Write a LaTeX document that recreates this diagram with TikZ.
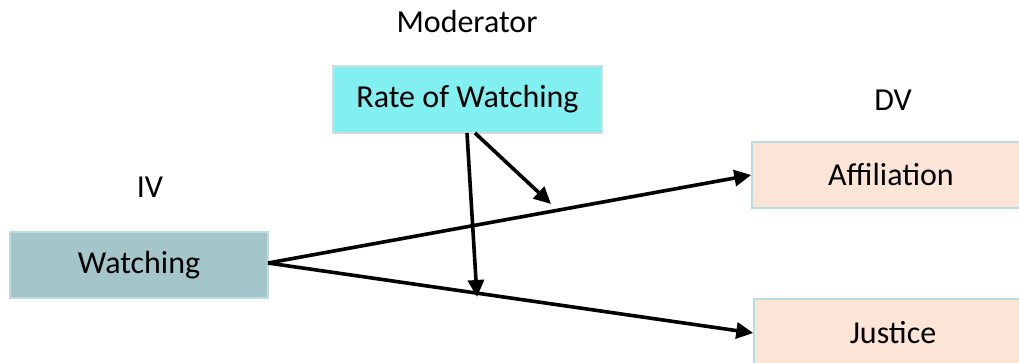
\documentclass[tikz,border=0pt]{standalone}
\usepackage{fontspec}
\setmainfont{Carlito}
\usetikzlibrary{arrows.meta}
\definecolor{ivfill}{HTML}{A4C6CA}
\definecolor{ivline}{HTML}{B9DEDF}
\definecolor{modfill}{HTML}{82F0F0}
\definecolor{modline}{HTML}{D2DCDC}
\definecolor{dvfill}{HTML}{FCE4D6}
\definecolor{dvline}{HTML}{B8DCE0}
\tikzset{
  box/.style={rectangle, line width=1.5pt, inner sep=0pt, font=\fontsize{32}{38}\selectfont},
  lbl/.style={font=\fontsize{32}{38}\selectfont, inner sep=0pt},
  conn/.style={line width=3.6pt, -{Triangle[length=17pt,width=16pt]}}
}
\begin{document}
\begin{tikzpicture}[x=1pt,y=-1pt]
\useasboundingbox (0,0) rectangle (1019,362);
\node[box, fill=ivfill, draw=ivline, minimum width=258pt, minimum height=66pt] (w) at (139,265) {Watching};
\node[box, fill=modfill, draw=modline, minimum width=269pt, minimum height=67pt] (r) at (467.5,99.5) {Rate of Watching};
\node[box, fill=dvfill, draw=dvline, minimum width=278pt, minimum height=66pt] (a) at (891,175) {Affiliation};
\node[box, fill=dvfill, draw=dvline, minimum width=278pt, minimum height=68pt] (j) at (893,333) {Justice};
\node[lbl] (ml) at (467,22) {Moderator};
\node[lbl] (dl) at (893,100) {DV};
\node[lbl] (il) at (150,187) {IV};
\coordinate (ws) at (268,263);
\coordinate (r1) at (467,133);
\coordinate (r2) at (475,133);
\coordinate (t1) at (477,297);
\coordinate (t2) at (551,204);
\draw[conn] (ws) -- (a.west);
\draw[conn] (ws) -- (j.west);
\draw[conn] (r1) -- (t1);
\draw[conn] (r2) -- (t2);
\end{tikzpicture}
\end{document}
